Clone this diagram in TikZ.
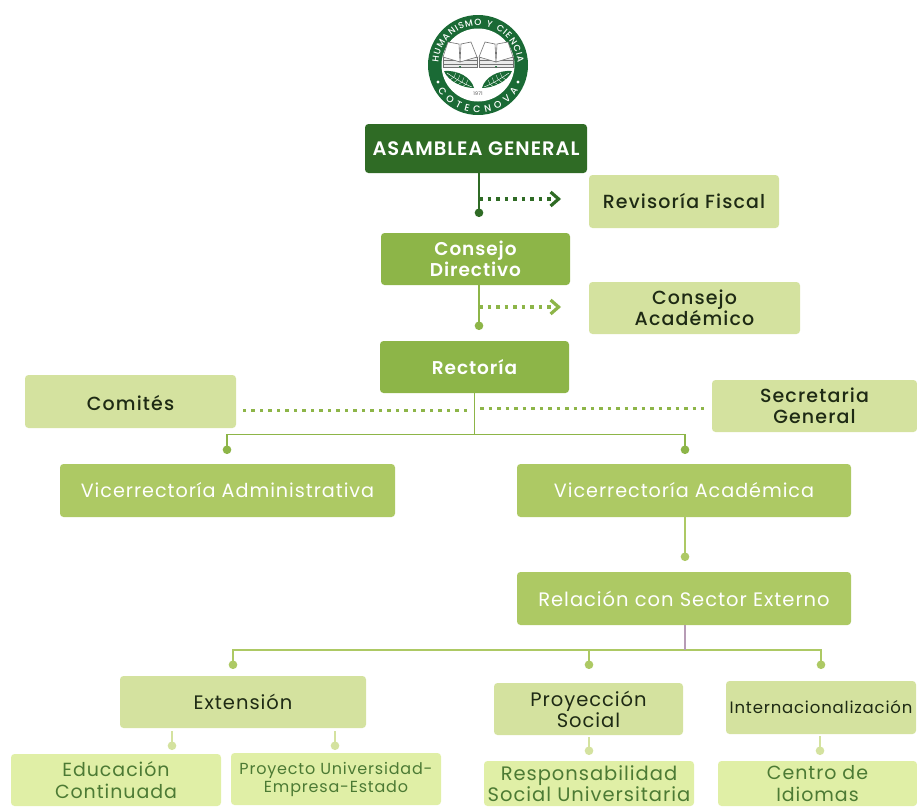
\documentclass[tikz,border=0pt]{standalone}
\usepackage{fontspec}
\setmainfont[LetterSpace=5]{Poppins}
\newfontfamily\medf[LetterSpace=6]{Poppins Medium}
\newfontfamily\semif[LetterSpace=5]{Poppins SemiBold}
\usetikzlibrary{arrows.meta,decorations.text}
\definecolor{cdark}{HTML}{2F6B25}
\definecolor{cmid}{HTML}{8DB548}
\definecolor{clime}{HTML}{ADC964}
\definecolor{cpale}{HTML}{D4E29F}
\definecolor{cyellow}{HTML}{E0EFA6}
\definecolor{ctxt}{HTML}{4C7A34}
\definecolor{cink}{HTML}{1E2A14}
\definecolor{cstem}{HTML}{B79CB5}
\definecolor{clogo}{HTML}{1A6A35}
\tikzset{
 x=1pt,y=-1pt,
 box/.style={rounded corners=3.5pt,inner sep=0pt,align=center},
 bdark/.style={box,fill=cdark,text=white,font=\fontsize{19.5}{21}\selectfont\semif},
 bmid/.style={box,fill=cmid,text=white,font=\fontsize{18.5}{21}\selectfont\semif},
 blime/.style={box,fill=clime,text=white,font=\fontsize{19.2}{21}\selectfont},
 bpale/.style={box,fill=cpale,text=cink,font=\fontsize{19.5}{21}\selectfont},
 bpaleb/.style={box,fill=cpale,text=cink,font=\fontsize{19}{21}\selectfont\medf},
 byel/.style={box,fill=cyellow,text=ctxt,font=\fontsize{19}{21.5}\selectfont},
 stem/.style={line width=1.9pt,-{Circle[length=8.5pt,width=8.5pt]}},
 plain/.style={line width=1.9pt},
 dots/.style={line width=3.4pt,dash pattern=on 3.5pt off 5pt},
 dotarrow/.style={dots,-{Straight Barb[length=8pt,width=14pt,line width=3.2pt]}},
}
\begin{document}
\begin{tikzpicture}
\useasboundingbox (0,0) rectangle (917,806);
% ---- logo
\begin{scope}[shift={(478,65)},x=1pt,y=1pt]
 \fill[clogo] (0,0) circle[radius=50];
 \fill[white] (0,0) circle[radius=36.5];
 \fill[white] (203:43.5) circle[radius=1.6];
 \fill[white] (337:43.5) circle[radius=1.6];
 \path[decorate,decoration={text along path,text align=fit to path,
   text={|\fontsize{9}{10}\selectfont\medf\color{white}|HUMANISMO Y CIENCIA}}]
   (177:39.5) arc[start angle=177,end angle=3,radius=39.5];
 \path[decorate,decoration={text along path,text align=fit to path,
   text={|\fontsize{9.5}{10}\selectfont\medf\color{white}|COTECNOVA}}]
   (212:47.5) arc[start angle=212,end angle=328,radius=47.5];
 % books and leaves
 \foreach \s in {-1,1}{
  \begin{scope}[xscale=\s,draw=black!55,line width=.6pt]
   \draw[fill=black!8] (1,-2) rectangle (35,8);
   \draw (1,4.5) -- (35,4.5) (1,1) -- (35,1);
   \draw[fill=white] (1,8) -- (7,23) -- (17,21) -- (18,3) -- cycle;
   \draw[fill=white] (18,3) -- (19,21) -- (30,23) -- (35,8) -- cycle;
   \fill[clogo] (17,-1) -- (19,-1) -- (18,-3) -- cycle;
   \fill[clogo] (4,-23) .. controls (7,-12) and (20,-5) .. (34,-6)
      .. controls (30,-16) and (16,-23) .. (4,-23) -- cycle;
   \draw[white,line width=.45pt] (6,-22) .. controls (14,-19) and (22,-14) .. (31,-8);
   \foreach \px/\py in {12/-19.2,16/-17,20/-14.5,24/-12}{
     \draw[white,line width=.3pt] (\px,\py) -- ++(-2,4.5) (\px,\py) -- ++(5,-3.5);
   }
  \end{scope}
 }
 \node[inner sep=0pt,text=black!70,font=\fontsize{4.8}{5}\selectfont] (yr) at (0,-29) {1971};
\end{scope}
% ---- boxes
\node[bdark,minimum width=222,minimum height=49] (asm) at (476,148.5) {ASAMBLEA GENERAL};
\node[bpaleb,minimum width=190,minimum height=53] (rev) at (684,201.5) {Revisoría Fiscal};
\node[bmid,minimum width=189,minimum height=52] (cdir) at (475.5,259) {Consejo\\Directivo};
\node[bpaleb,minimum width=211,minimum height=52] (cac) at (694.5,308) {Consejo\\Académico};
\node[bmid,minimum width=189,minimum height=52] (rec) at (474.5,367) {Rectoría};
\node[bpaleb,minimum width=211,minimum height=53] (com) at (130.5,401.5) {\raisebox{-9pt}[0pt][0pt]{Comités}};
\node[bpaleb,minimum width=205,minimum height=52] (sec) at (814.5,406) {Secretaria\\General};
\node[blime,minimum width=335,minimum height=53] (vad) at (227.5,490.5) {Vicerrectoría Administrativa};
\node[blime,minimum width=334,minimum height=53] (vac) at (684,490.5) {Vicerrectoría Académica};
\node[blime,minimum width=334,minimum height=53,font=\fontsize{19.5}{21}\selectfont] (rel) at (684,598.5) {Relación con Sector Externo};
\node[bpale,minimum width=246,minimum height=52] (ext) at (243,702) {Extensión};
\node[bpale,minimum width=189,minimum height=52] (pro) at (588.5,709) {Proyección\\Social};
\node[bpale,minimum width=190,minimum height=53,font=\fontsize{16.5}{17}\selectfont] (int) at (821,707.5) {Internacionalización};
\node[byel,minimum width=210,minimum height=52] (edu) at (116,780) {Educación\\Continuada};
\node[byel,minimum width=210,minimum height=52,font=\fontsize{16}{18}\selectfont] (pue) at (336,779) {Proyecto Universidad-\\Empresa-Estado};
\node[byel,minimum width=210,minimum height=45,font=\fontsize{19.5}{21.5}\selectfont] (res) at (589,783.5) {Responsabilidad\\Social Universitaria};
\node[byel,minimum width=199,minimum height=45] (cen) at (817.5,783.5) {Centro de\\Idiomas};
% ---- free ends
\coordinate (e1) at (479,217);
\coordinate (a1) at (561,199);
\coordinate (e2) at (479,330);
\coordinate (a2) at (561,307);
\coordinate (hr) at (474.5,434.5);
\coordinate (dl) at (227,454);
\coordinate (dr) at (685,454);
\coordinate (dv) at (685,561);
\coordinate (hs) at (685,650);
\coordinate (d1) at (233,669);
\coordinate (d2) at (589,669);
\coordinate (d3) at (821,669);
\coordinate (d4) at (172,750);
\coordinate (d5) at (335,750);
\coordinate (d6) at (589,755);
\coordinate (d7) at (820,755);
\coordinate (cl) at (243,410.5);
\coordinate (cr) at (704,408.5);
% ---- connectors
\draw[stem,cdark] (e1 |- asm.south) -- (e1);
\draw[dotarrow,cdark] (e1 |- a1) -- (a1);
\draw[stem,cmid] (e2 |- cdir.south) -- (e2);
\draw[dotarrow,cmid] (e2 |- a2) -- (a2);
\draw[plain,cmid] (rec.south) -- (hr);
\draw[dots,cmid] (467,410.5) -- (cl);
\draw[dots,cmid] (480,408.5) -- (cr);
\draw[stem,cmid] (hr) -| (dl);
\draw[stem,cmid] (hr) -| (dr);
\draw[stem,clime] (dv |- vac.south) -- (dv);
\draw[stem,clime] (hs) -| (d1);
\draw[stem,clime] (hs) -| (d2);
\draw[stem,clime] (hs) -| (d3);
\draw[plain,cstem] (hs |- rel.south) -- (hs);
\draw[stem,cpale] (172,731) -- (d4);
\draw[stem,cpale] (335,731) -- (d5);
\draw[stem,cpale] (589,737) -- (d6);
\draw[stem,cpale] (820,736) -- (d7);
\end{tikzpicture}
\end{document}
